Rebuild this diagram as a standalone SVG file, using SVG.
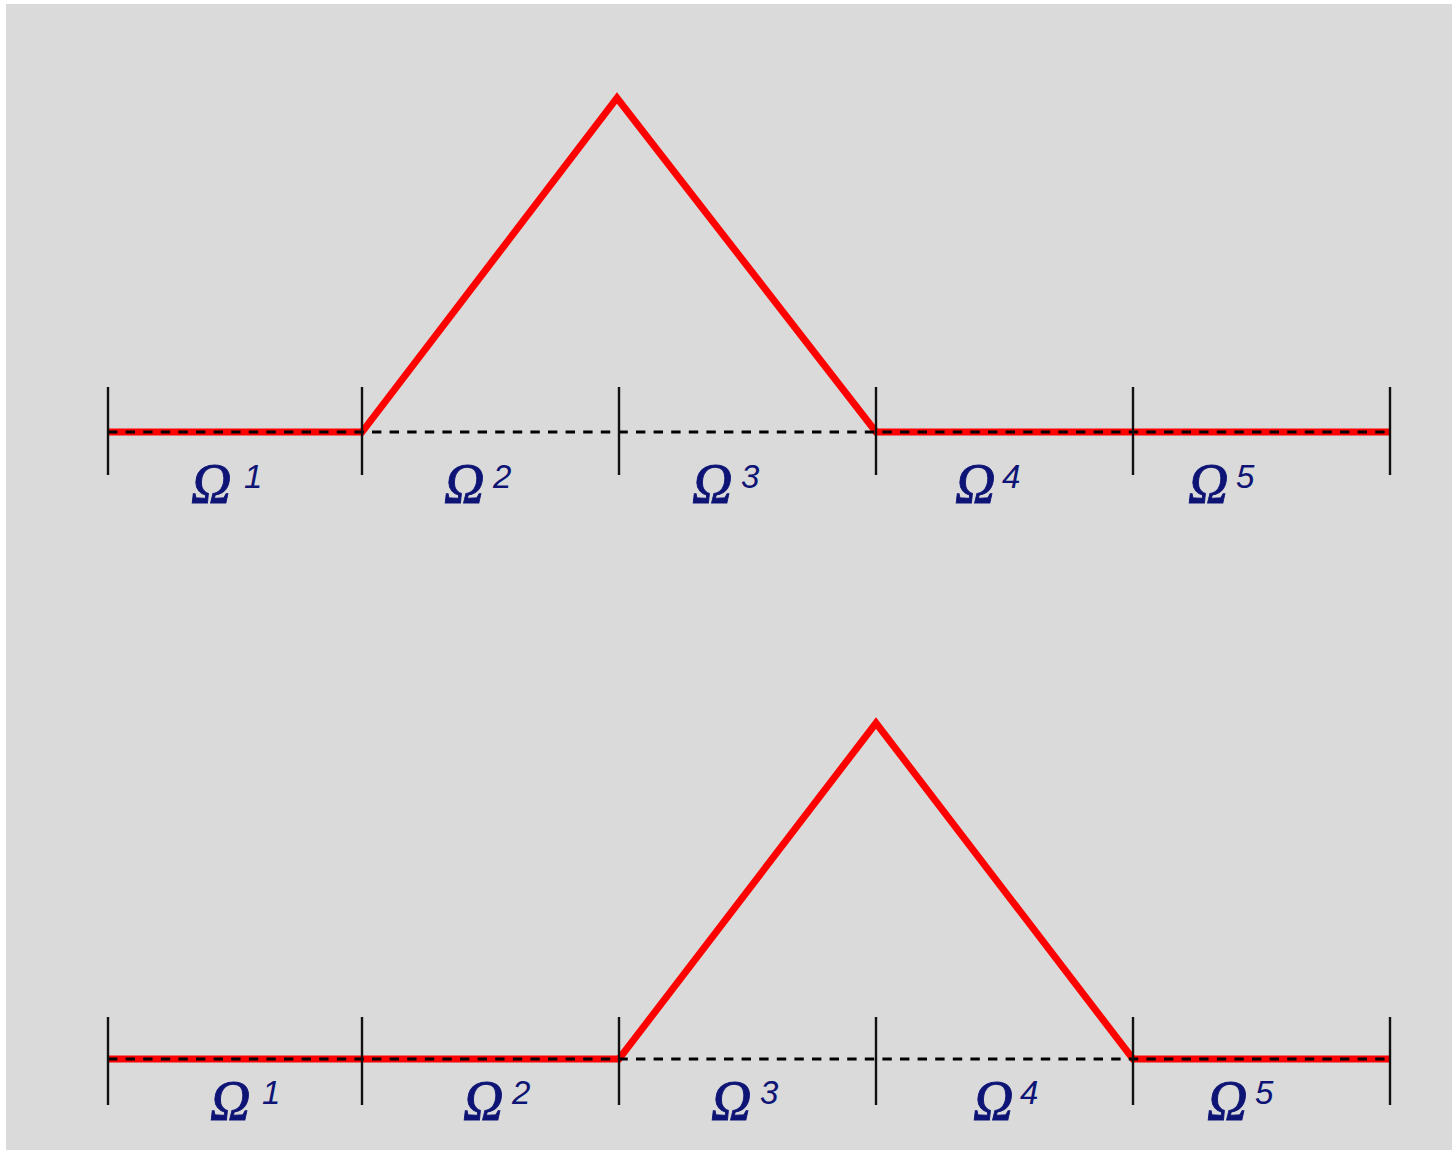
<svg xmlns="http://www.w3.org/2000/svg" width="1452" height="1150" viewBox="0 0 1452 1150">
<style>
.bg{fill:#dadada}
.red{fill:none;stroke:#ff0000;stroke-width:7;stroke-linejoin:miter}
.dash{fill:none;stroke:#000;stroke-width:3;stroke-dasharray:9.4 8.2}
.tick{stroke:#111;stroke-width:2.4}
.om{font-family:"Liberation Serif",serif;font-style:italic;font-size:56px;fill:#0d1475;stroke:#0d1475;stroke-width:0.9}
.sup{font-family:"Liberation Sans",sans-serif;font-style:italic;font-size:33px;fill:#0d1475}
</style>
<rect class="bg" x="6" y="4" width="1446" height="1146"/>
<g id="top-plot">
  <g id="top-connectors">
    <polyline class="red" points="108,432 362,432 617,98 876,432 1390,432"/>
    <line class="dash" x1="108" y1="432" x2="1390" y2="432"/>
  </g>
  <g id="top-ticks">
    <line class="tick" x1="108" y1="387" x2="108" y2="475"/>
    <line class="tick" x1="362" y1="387" x2="362" y2="475"/>
    <line class="tick" x1="619" y1="387" x2="619" y2="475"/>
    <line class="tick" x1="876" y1="387" x2="876" y2="475"/>
    <line class="tick" x1="1133" y1="387" x2="1133" y2="475"/>
    <line class="tick" x1="1390" y1="387" x2="1390" y2="475"/>
  </g>
  <g id="top-labels">
    <g id="t-om1"><text class="om" x="191" y="503">Ω</text><text class="sup" x="244" y="488">1</text></g>
    <g id="t-om2"><text class="om" x="444" y="503">Ω</text><text class="sup" x="493" y="488">2</text></g>
    <g id="t-om3"><text class="om" x="692" y="503">Ω</text><text class="sup" x="741" y="488">3</text></g>
    <g id="t-om4"><text class="om" x="955" y="503">Ω</text><text class="sup" x="1002" y="488">4</text></g>
    <g id="t-om5"><text class="om" x="1188" y="503">Ω</text><text class="sup" x="1236" y="488">5</text></g>
  </g>
</g>
<g id="bottom-plot">
  <g id="bottom-connectors">
    <polyline class="red" points="108,1059 619,1059 876,723 1133,1059 1390,1059"/>
    <line class="dash" x1="108" y1="1059" x2="1390" y2="1059"/>
  </g>
  <g id="bottom-ticks">
    <line class="tick" x1="108" y1="1017" x2="108" y2="1105"/>
    <line class="tick" x1="362" y1="1017" x2="362" y2="1105"/>
    <line class="tick" x1="619" y1="1017" x2="619" y2="1105"/>
    <line class="tick" x1="876" y1="1017" x2="876" y2="1105"/>
    <line class="tick" x1="1133" y1="1017" x2="1133" y2="1105"/>
    <line class="tick" x1="1390" y1="1017" x2="1390" y2="1105"/>
  </g>
  <g id="bottom-labels">
    <g id="b-om1"><text class="om" x="210" y="1120">Ω</text><text class="sup" x="262" y="1104">1</text></g>
    <g id="b-om2"><text class="om" x="463" y="1120">Ω</text><text class="sup" x="512" y="1104">2</text></g>
    <g id="b-om3"><text class="om" x="711" y="1120">Ω</text><text class="sup" x="760" y="1104">3</text></g>
    <g id="b-om4"><text class="om" x="973" y="1120">Ω</text><text class="sup" x="1020" y="1104">4</text></g>
    <g id="b-om5"><text class="om" x="1207" y="1120">Ω</text><text class="sup" x="1255" y="1104">5</text></g>
  </g>
</g>
</svg>
